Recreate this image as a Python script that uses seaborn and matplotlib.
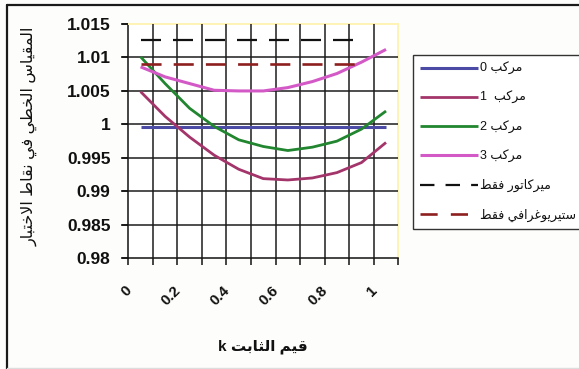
import numpy as np
import pandas as pd
import matplotlib
matplotlib.use("Agg")
import matplotlib.pyplot as plt
import matplotlib.transforms as mtransforms
from matplotlib.lines import Line2D
import seaborn as sns

# ---------------- data ----------------
k_values = [0.0, 0.1, 0.2, 0.3, 0.4, 0.5, 0.6, 0.7, 0.8, 0.9, 1.0]
composite_0 = [0.9996, 0.9996, 0.9996, 0.9996, 0.9996, 0.9996, 0.9996, 0.9996, 0.9996, 0.9996, 0.9996]
composite_1 = [1.0049, 1.0012, 0.9981, 0.9954, 0.9933, 0.9919, 0.9917, 0.9920, 0.9928, 0.9943, 0.9973]
composite_2 = [1.0101, 1.0061, 1.0024, 0.9997, 0.9977, 0.9967, 0.9961, 0.9966, 0.9975, 0.9993, 1.0020]
composite_3 = [1.0086, 1.0071, 1.0061, 1.0051, 1.0050, 1.0050, 1.0055, 1.0064, 1.0076, 1.0093, 1.0112]
mercator_only = [1.0126, 1.0126, 1.0126, 1.0126, 1.0126, 1.0126, 1.0126, 1.0126, 1.0126, 1.0126]
stereo_only = [1.0090, 1.0090, 1.0090, 1.0090, 1.0090, 1.0090, 1.0090, 1.0090, 1.0090, 1.0090]

series_labels = ["مركب 0", "مركب  1", "مركب 2", "مركب 3", "ميركاتور فقط", "ستيريوغرافي فقط"]
series_colors = ["#4B4BA6", "#A3356B", "#21862F", "#D35AC6", "#111111", "#8E1F1F"]

y_ticks = [0.98, 0.985, 0.99, 0.995, 1.0, 1.005, 1.01, 1.015]
y_tick_labels = ["0.98", "0.985", "0.99", "0.995", "1", "1.005", "1.01", "1.015"]
x_ticks = [0.0, 0.2, 0.4, 0.6, 0.8, 1.0]
x_tick_labels = ["0", "0.2", "0.4", "0.6", "0.8", "1"]

x_title = "قيم الثابت k"
y_title = "المقياس الخطي في نقاط الاختبار"

# ---------------- Arabic shaping (contextual forms + visual order) ----------------
_AR_FORMS = {
    # letter: (isolated, final, initial, medial)
    "\u0627": (0xFE8D, 0xFE8E, None, None),      # alef
    "\u0628": (0xFE8F, 0xFE90, 0xFE91, 0xFE92),  # beh
    "\u062A": (0xFE95, 0xFE96, 0xFE97, 0xFE98),  # teh
    "\u062B": (0xFE99, 0xFE9A, 0xFE9B, 0xFE9C),  # theh
    "\u062E": (0xFEA5, 0xFEA6, 0xFEA7, 0xFEA8),  # khah
    "\u0631": (0xFEAD, 0xFEAE, None, None),      # reh
    "\u0633": (0xFEB1, 0xFEB2, 0xFEB3, 0xFEB4),  # seen
    "\u0637": (0xFEC1, 0xFEC2, 0xFEC3, 0xFEC4),  # tah
    "\u063A": (0xFECD, 0xFECE, 0xFECF, 0xFED0),  # ghain
    "\u0641": (0xFED1, 0xFED2, 0xFED3, 0xFED4),  # feh
    "\u0642": (0xFED5, 0xFED6, 0xFED7, 0xFED8),  # qaf
    "\u0643": (0xFED9, 0xFEDA, 0xFEDB, 0xFEDC),  # kaf
    "\u0644": (0xFEDD, 0xFEDE, 0xFEDF, 0xFEE0),  # lam
    "\u0645": (0xFEE1, 0xFEE2, 0xFEE3, 0xFEE4),  # meem
    "\u0646": (0xFEE5, 0xFEE6, 0xFEE7, 0xFEE8),  # noon
    "\u0648": (0xFEED, 0xFEEE, None, None),      # waw
    "\u064A": (0xFEF1, 0xFEF2, 0xFEF3, 0xFEF4),  # yeh
    "\u0644\u0627": (0xFEFB, 0xFEFC, None, None),  # lam-alef ligature
}


def _shape(text):
    units, i = [], 0
    while i < len(text):
        if text[i] == "\u0644" and i + 1 < len(text) and text[i + 1] == "\u0627":
            units.append("\u0644\u0627")
            i += 2
        else:
            units.append(text[i])
            i += 1

    def joins_next(u):
        return u in _AR_FORMS and _AR_FORMS[u][2] is not None

    out = []
    for j, u in enumerate(units):
        if u not in _AR_FORMS:
            out.append(u)
            continue
        prev = j > 0 and joins_next(units[j - 1])
        nxt = joins_next(u) and j + 1 < len(units) and units[j + 1] in _AR_FORMS
        iso, fin, ini, med = _AR_FORMS[u]
        if prev and nxt:
            cp = med
        elif prev:
            cp = fin
        elif nxt:
            cp = ini
        else:
            cp = iso
        out.append(chr(cp))
    return out


def ar(text):
    runs = []
    for ch in _shape(text):
        ltr = ch.isascii() and (ch.isalnum() or ch == ".")
        if runs and runs[-1][0] == ltr:
            runs[-1][1].append(ch)
        else:
            runs.append([ltr, [ch]])
    return "".join("".join(c if l else reversed(c)) for l, c in reversed(runs))


# ---------------- figure ----------------
W, H = 579, 369
sns.set_theme(style="white")
plt.rcParams["font.family"] = ["Liberation Sans", "DejaVu Sans"]
plt.rcParams["axes.axisbelow"] = False
plt.rcParams["ytick.left"] = True
plt.rcParams["xtick.bottom"] = True

fig = plt.figure(figsize=(W / 100, H / 100), dpi=100, facecolor="#FDFDFB")
ax = fig.add_axes([128.3 / W, 1 - 258.3 / H, 270.0 / W, 234.3 / H])
ax.set_facecolor("white")
ax.set_axisbelow(False)

all_series = [composite_0, composite_1, composite_2, composite_3, mercator_only, stereo_only]
line_widths = [2.2, 2.0, 2.0, 2.2, 1.6, 1.9]
dash_styles = [None, None, None, None, (9.0, 5.4), (7.6, 4.6)]

handles = []
for vals, label, color, lw, dash in zip(all_series, series_labels, series_colors,
                                        line_widths, dash_styles):
    df = pd.DataFrame({"k": k_values[:len(vals)], "m": vals})
    sns.lineplot(data=df, x="k", y="m", color=color, linewidth=lw, ax=ax,
                 estimator=None, sort=False)
    line = ax.lines[-1]
    line.set_zorder(4)
    line.set_solid_capstyle("butt")
    if dash is not None:
        line.set_dashes(dash)
        line.set_dash_capstyle("butt")
    line.set_label(ar(label))
    handles.append(line)

# axes limits and ticks
bounds = np.r_[np.array(k_values) - 0.05, k_values[-1] + 0.05]
ax.set_xlim(bounds[0], bounds[-1])
ax.set_ylim(y_ticks[0], y_ticks[-1])
ax.set_yticks(y_ticks)
ax.set_yticklabels(y_tick_labels)
ax.set_xticks(x_ticks)
ax.set_xticklabels(x_tick_labels)
ax.set_xticks(bounds, minor=True)

# black grid: category boundaries and every y tick
grid_v = ax.vlines(bounds[1:-1], y_ticks[0], y_ticks[-1], colors="#1c1c1c", linewidth=1.1)
grid_h = ax.hlines(y_ticks[1:-1], bounds[0], bounds[-1], colors="#1c1c1c", linewidth=1.1)
grid_v.set_zorder(2.6)
grid_h.set_zorder(2.6)

# outward tick marks on the value axis (x in axes fraction)
tick_frac = 6.6 / 270.0
ytick_marks = ax.hlines(y_ticks, -tick_frac, 0, colors="#111111", linewidth=1.1,
                        transform=ax.get_yaxis_transform(), clip_on=False)
ytick_marks.set_zorder(2.6)

ax.yaxis.set_ticks_position("left")
ax.tick_params(axis="y", which="major", direction="out", length=4.8, width=1.1,
               color="#111111", pad=8.0, left=True, labelsize=12.5)
ax.tick_params(axis="x", which="major", length=0, pad=18, labelsize=10.8)
ax.tick_params(axis="x", which="minor", direction="out", length=4.8, width=1.1,
               color="#111111", bottom=True)
for lab in ax.get_yticklabels():
    lab.set_fontweight("bold")
    lab.set_color("#111111")

shift = mtransforms.ScaledTranslation(-4.5 / 72, 0, fig.dpi_scale_trans)
for lab in ax.get_xticklabels():
    lab.set_fontweight("bold")
    lab.set_color("#111111")
    lab.set_rotation(45)
    lab.set_ha("right")
    lab.set_va("top")
    lab.set_transform(lab.get_transform() + shift)

for side in ("left", "bottom"):
    ax.spines[side].set_color("#111111")
    ax.spines[side].set_linewidth(1.1)
for side in ("top", "right"):
    ax.spines[side].set_color("#FFF3B5")
    ax.spines[side].set_linewidth(1.4)

ax.set_xlabel(ar(x_title), fontsize=11, fontweight="bold", color="#111111", va="center")
ax.xaxis.set_label_coords(0.5, -0.378)
ax.set_ylabel(ar(y_title), fontsize=11.5, color="#111111", va="center")
ax.yaxis.set_label_coords(-0.365, 0.52)

leg = ax.legend(handles=handles, loc="upper left",
                bbox_to_anchor=(413 / W, 1 - 55 / H), bbox_transform=fig.transFigure,
                borderaxespad=0, frameon=True, fancybox=False, framealpha=1,
                edgecolor="#333333", fontsize=9.0, handlelength=4.6,
                handletextpad=0.15, borderpad=0.58, labelspacing=1.3)
leg.get_frame().set_linewidth(1.0)
for t in leg.get_texts():
    t.set_color("#111111")
for h in leg.legend_handles[4:]:
    h.set_dashes((6.5, 5.0))

# outer frame of the chart area
frame_kw = dict(transform=fig.transFigure, clip_on=False)
fig.add_artist(Line2D([7.5 / W, 7.5 / W], [0, 1 - 5 / H], color="#1a1a1a", lw=1.6, **frame_kw))
fig.add_artist(Line2D([7.5 / W, 1], [1 - 5 / H, 1 - 5 / H], color="#1a1a1a", lw=1.6, **frame_kw))
fig.add_artist(Line2D([7.5 / W, 1], [1 - 367.5 / H, 1 - 367.5 / H], color="#dddddd", lw=1.0, **frame_kw))

fig.savefig("out.png", dpi=100, facecolor=fig.get_facecolor())
